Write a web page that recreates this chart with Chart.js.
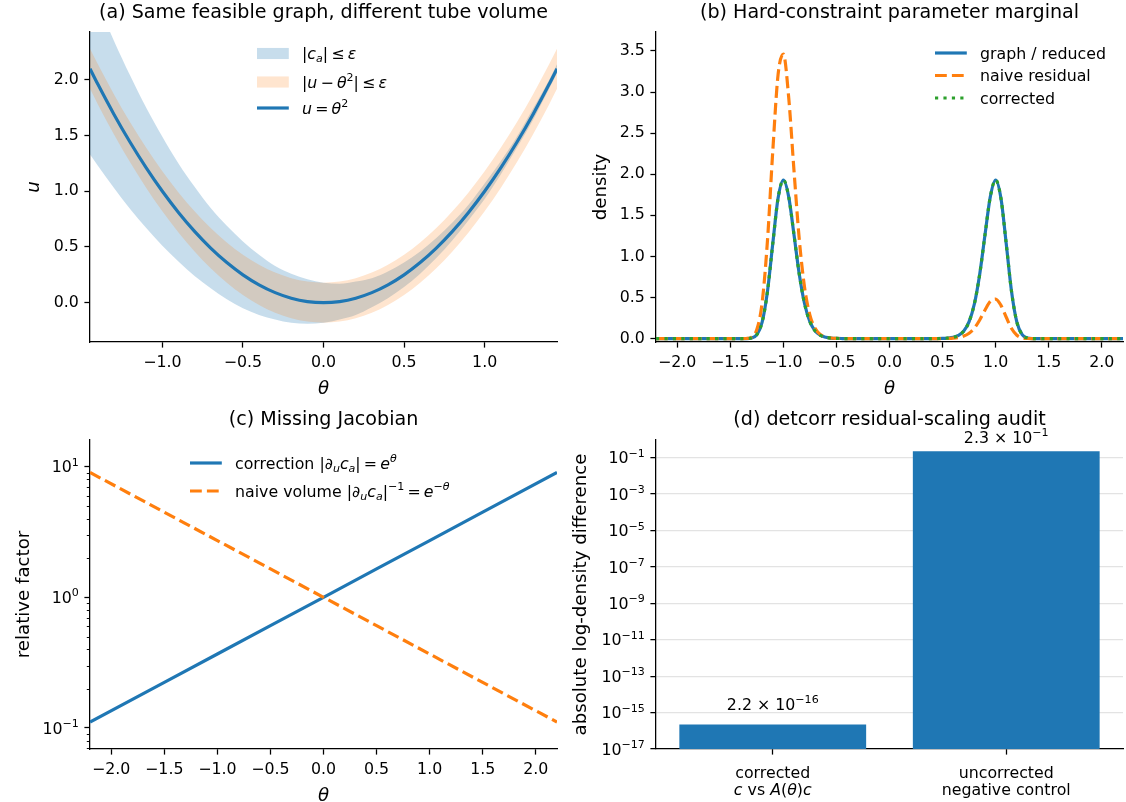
<!DOCTYPE html>
<html><head><meta charset="utf-8">
<script src="https://cdn.jsdelivr.net/npm/chart.js@4.4.0/dist/chart.umd.min.js"></script>
<style>
html,body{margin:0;padding:0;background:#fff;}
#wrap{position:relative;width:1126px;height:802px;background:#fff;}
canvas{position:absolute;left:0;top:0;}
</style></head><body>
<div id="wrap">
<canvas id="ca" width="1126" height="802"></canvas>
<canvas id="cb" width="1126" height="802"></canvas>
<canvas id="cc" width="1126" height="802"></canvas>
<canvas id="cd" width="1126" height="802"></canvas>
</div>
<script>
// ---------------- data ----------------
// (a) tube picture
const thetaA   = [-1.449,-1.4,-1.3,-1.2,-1.1,-1.0,-0.9,-0.8,-0.7,-0.6,-0.5,-0.4,-0.3,-0.2,-0.1,0,0.1,0.2,0.3,0.4,0.5,0.6,0.7,0.8,0.9,1.0,1.1,1.2,1.3,1.4,1.449];
const uA       = [2.10,1.96,1.69,1.44,1.21,1.00,0.81,0.64,0.49,0.36,0.25,0.16,0.09,0.04,0.01,0.00,0.01,0.04,0.09,0.16,0.25,0.36,0.49,0.64,0.81,1.00,1.21,1.44,1.69,1.96,2.10];
const blueLoA  = [1.33,1.23,1.03,0.84,0.67,0.51,0.37,0.24,0.13,0.03,-0.05,-0.11,-0.15,-0.18,-0.19,-0.18,-0.15,-0.11,-0.04,0.04,0.14,0.26,0.40,0.56,0.74,0.93,1.15,1.39,1.64,1.92,2.06];
const blueHiA  = [2.87,2.69,2.35,2.04,1.75,1.49,1.25,1.04,0.85,0.69,0.55,0.43,0.33,0.26,0.21,0.18,0.17,0.19,0.22,0.28,0.36,0.46,0.58,0.72,0.88,1.07,1.27,1.49,1.74,2.00,2.14];
const orangeLoA= [1.92,1.78,1.51,1.26,1.03,0.82,0.63,0.46,0.31,0.18,0.07,-0.02,-0.09,-0.14,-0.17,-0.18,-0.17,-0.14,-0.09,-0.02,0.07,0.18,0.31,0.46,0.63,0.82,1.03,1.26,1.51,1.78,1.92];
const orangeHiA= [2.28,2.14,1.87,1.62,1.39,1.18,0.99,0.82,0.67,0.54,0.43,0.34,0.27,0.22,0.19,0.18,0.19,0.22,0.27,0.34,0.43,0.54,0.67,0.82,0.99,1.18,1.39,1.62,1.87,2.14,2.28];
const xTicksA  = [-1.0,-0.5,0.0,0.5,1.0];
const yTicksA  = [0.0,0.5,1.0,1.5,2.0];

// (b) marginal densities
const thetaB = [-2.2,-2.0,-1.8,-1.6,-1.5,-1.45,-1.4,-1.35,-1.3,-1.25,-1.2,-1.15,-1.1,-1.05,-1.0,-0.95,-0.9,-0.85,-0.8,-0.75,-0.7,-0.65,-0.6,-0.55,-0.5,-0.45,-0.4,-0.2,0,0.2,0.4,0.45,0.5,0.55,0.6,0.65,0.7,0.75,0.8,0.85,0.9,0.95,1.0,1.05,1.1,1.15,1.2,1.25,1.3,1.35,1.4,1.45,1.5,1.6,1.8,2.0,2.2];
const graphB = [0,0,0,0,0,0,0.0001,0.0007,0.0074,0.048,0.200,0.572,1.152,1.707,1.93,1.727,1.265,0.784,0.424,0.206,0.092,0.039,0.016,0.0065,0.0027,0.0011,0.0005,0,0,0,0.0005,0.0011,0.0027,0.0065,0.016,0.039,0.092,0.206,0.424,0.784,1.265,1.727,1.93,1.707,1.152,0.572,0.200,0.048,0.0074,0.0007,0.0001,0,0,0,0,0,0];
const naiveB = [0,0,0,0,0,0,0.0003,0.0018,0.018,0.110,0.437,1.188,2.276,3.208,3.46,2.937,2.046,1.206,0.621,0.287,0.122,0.049,0.019,0.0074,0.0029,0.0012,0.0005,0,0,0,0.0002,0.0004,0.0011,0.0026,0.006,0.0138,0.031,0.066,0.129,0.227,0.348,0.452,0.481,0.405,0.260,0.123,0.041,0.009,0.0013,0.0001,0,0,0,0,0,0,0];
const correctedB = [0,0,0,0,0,0,0.0001,0.0007,0.0074,0.048,0.200,0.572,1.152,1.707,1.93,1.727,1.265,0.784,0.424,0.206,0.092,0.039,0.016,0.0065,0.0027,0.0011,0.0005,0,0,0,0.0005,0.0011,0.0027,0.0065,0.016,0.039,0.092,0.206,0.424,0.784,1.265,1.727,1.93,1.707,1.152,0.572,0.200,0.048,0.0074,0.0007,0.0001,0,0,0,0,0,0];
const xTicksB = [-2.0,-1.5,-1.0,-0.5,0.0,0.5,1.0,1.5,2.0];
const yTicksB = [0.0,0.5,1.0,1.5,2.0,2.5,3.0,3.5];

// (c) Jacobian factors
const thetaC      = [-2.2,-1.5,-1.0,-0.5,0,0.5,1.0,1.5,2.2];
const correctionC = [0.111,0.223,0.368,0.607,1.0,1.649,2.718,4.482,9.025];
const naiveC      = [9.025,4.482,2.718,1.649,1.0,0.607,0.368,0.223,0.111];
const xTicksC = [-2.0,-1.5,-1.0,-0.5,0.0,0.5,1.0,1.5,2.0];
const yTicksC = [0.1,1,10];
const minorTicksC = [0.07,0.08,0.09,0.2,0.3,0.4,0.5,0.6,0.7,0.8,0.9,2,3,4,5,6,7,8,9];

// (d) audit bars
const catsD   = ['corrected','uncorrected'];
const valuesD = [2.2e-16, 0.23];
const yTicksD = [1e-17,1e-15,1e-13,1e-11,1e-9,1e-7,1e-5,1e-3,1e-1];

// ---------------- style ----------------
const FONT = '"DejaVu Sans", sans-serif';
const W = 1126, H = 802;
const TICK = 15.8, LEG = 15.8, LAB = 18.2, TTL = 19.1;
const LW = 3.18, SP = 1.27, TL = 5.6, PAD = 5.6;
const YW = 80, XH = 40;
const BLUE = '#1f77b4', ORANGE = '#ff7f0e', GREEN = '#2ca02c';
Chart.defaults.font.family = FONT;
Chart.defaults.color = '#000';

function fmt1(v){ return (v < 0 ? '\u2212' : '') + Math.abs(v).toFixed(1); }
function pts(xs, ys){ return xs.map((x,i)=>({x:x, y:ys[i]})); }

function segStyle(f, size){
  const small = f.includes('b') || f.includes('p');
  const fs = small ? size*0.7 : size;
  const dy = f.includes('p') ? -size*0.42 : (f.includes('b') ? size*0.2 : 0);
  return {font:(f.includes('i') ? 'italic ' : '') + fs + 'px ' + FONT, dy:dy};
}
function richWidth(ctx, segs, size){
  let w = 0;
  for (const s of segs){ ctx.font = segStyle(s[1]||'', size).font; w += ctx.measureText(s[0]).width; }
  return w;
}
function drawRich(ctx, segs, x, y, size, align){
  const w = richWidth(ctx, segs, size);
  let cx = align === 'center' ? x - w/2 : (align === 'right' ? x - w : x);
  ctx.textAlign = 'left'; ctx.textBaseline = 'alphabetic'; ctx.fillStyle = '#000';
  for (const s of segs){
    const st = segStyle(s[1]||'', size);
    ctx.font = st.font; ctx.fillText(s[0], cx, y + st.dy);
    cx += ctx.measureText(s[0]).width;
  }
}
function powSegs(v){
  const e = Math.round(Math.log10(v));
  return [['10'], [(e < 0 ? '\u2212' : '') + Math.abs(e), 'p']];
}

function linAxis(min, max, ticks, isX){
  return {type:'linear', min:min, max:max, bounds:'data', position:isX?'bottom':'left',
    afterBuildTicks: s => { s.ticks = ticks.map(v=>({value:v})); },
    afterFit: s => { if (isX) s.height = XH; else s.width = YW; },
    ticks:{font:{size:TICK}, color:'#000', padding:PAD, maxRotation:0, minRotation:0, autoSkip:false, callback: v => fmt1(v)},
    grid:{drawOnChartArea:false, drawTicks:true, tickLength:TL, tickColor:'#000', tickWidth:SP},
    border:{display:true, color:'#000', width:SP}
  };
}
function logAxis(min, max, ticks){
  return {type:'logarithmic', min:min, max:max, bounds:'data', position:'left',
    afterBuildTicks: s => { s.ticks = ticks.map(v=>({value:v})); },
    afterFit: s => { s.width = YW; },
    ticks:{display:false},
    grid:{drawOnChartArea:false, drawTicks:true, tickLength:TL, tickColor:'#000', tickWidth:SP},
    border:{display:true, color:'#000', width:SP}
  };
}
function baseOpts(area, scales){
  return {responsive:false, animation:false, events:[],
    layout:{padding:{left:area.l-YW, right:W-area.r, top:area.t, bottom:H-area.b-XH}},
    plugins:{legend:{display:false}, tooltip:{enabled:false}, title:{display:false}},
    scales:scales};
}
function drawLegend(ctx, lg){
  lg.items.forEach((it,i)=>{
    const y = lg.ys[i];
    if (it.type === 'patch'){
      ctx.fillStyle = it.color; ctx.fillRect(lg.hx, y-5.55, 31.8, 11.1);
    } else {
      ctx.save(); ctx.strokeStyle = it.color; ctx.lineWidth = LW; ctx.lineCap = 'butt';
      ctx.setLineDash(it.dash || []); ctx.beginPath(); ctx.moveTo(lg.hx, y); ctx.lineTo(lg.hx+31.8, y); ctx.stroke(); ctx.restore();
    }
    drawRich(ctx, it.label, lg.tx, y + 0.36*LEG, LEG, 'left');
  });
}
function drawLogLabels(chart, ctx){
  const s = chart.scales.y, ca = chart.chartArea;
  s.ticks.forEach(t=>{
    const y = s.getPixelForValue(t.value);
    drawRich(ctx, powSegs(t.value), ca.left - TL - PAD, y + 0.36*TICK, TICK, 'right');
  });
}
function deco(o){
  return {id:'deco', afterDraw(chart){
    const ctx = chart.ctx, ca = chart.chartArea;
    const cx = (ca.left+ca.right)/2, cy = (ca.top+ca.bottom)/2;
    ctx.save();
    ctx.fillStyle = '#000'; ctx.textAlign = 'center'; ctx.textBaseline = 'middle';
    ctx.font = TTL + 'px ' + FONT;
    ctx.fillText(o.title, cx, ca.top - o.titleOff);
    if (o.xlabel) drawRich(ctx, o.xlabel, cx, ca.bottom + o.xlabelOff + 0.36*LAB, LAB, 'center');
    if (o.ylabel){
      ctx.save(); ctx.translate(o.ylabelX, cy); ctx.rotate(-Math.PI/2);
      drawRich(ctx, o.ylabel, 0, 0.36*LAB, LAB, 'center'); ctx.restore();
    }
    if (o.logLabels) drawLogLabels(chart, ctx);
    if (o.legend) drawLegend(ctx, o.legend);
    if (o.extra) o.extra(chart, ctx);
    ctx.restore();
  }};
}
const DASH = [11.8, 5.1], DOT = [3.18, 5.25];
const TH = [['\u03B8','i']];

// ---------------- (a) ----------------
const areaA = {l:90, r:557, t:32, b:342};
const noLine = {borderColor:'rgba(0,0,0,0)', borderWidth:0, pointRadius:0, cubicInterpolationMode:'monotone'};
new Chart(document.getElementById('ca'), {
  type:'line',
  data:{datasets:[
    Object.assign({data:pts(thetaA, blueLoA), fill:false, order:4}, noLine),
    Object.assign({data:pts(thetaA, blueHiA), fill:'-1', backgroundColor:'rgba(31,119,180,0.25)', order:3}, noLine),
    Object.assign({data:pts(thetaA, orangeLoA), fill:false, order:2}, noLine),
    Object.assign({data:pts(thetaA, orangeHiA), fill:'-1', backgroundColor:'rgba(255,127,14,0.2)', order:1}, noLine),
    {data:pts(thetaA, uA), borderColor:BLUE, borderWidth:LW, pointRadius:0, fill:false, order:0, cubicInterpolationMode:'monotone'}
  ]},
  options: baseOpts(areaA, {x:linAxis(-1.449, 1.449, xTicksA, true), y:linAxis(-0.353, 2.43, yTicksA, false)}),
  plugins:[deco({title:'(a) Same feasible graph, different tube volume', titleOff:19, xlabel:TH, xlabelOff:45,
    ylabel:[['u','i']], ylabelX:32,
    legend:{hx:257, tx:302, ys:[53.5,82,108], items:[
      {type:'patch', color:'rgba(31,119,180,0.25)', label:[['|'],['c','i'],['a','ib'],['|\u2009\u2264\u2009'],['\u03B5','i']]},
      {type:'patch', color:'rgba(255,127,14,0.2)', label:[['|'],['u','i'],['\u2009\u2212\u2009'],['\u03B8','i'],['2','p'],['|\u2009\u2264\u2009'],['\u03B5','i']]},
      {type:'line', color:BLUE, label:[['u','i'],['\u2009=\u2009'],['\u03B8','i'],['2','p']]}
    ]}})]
});

// ---------------- (b) ----------------
const areaB = {l:656, r:1123, t:32, b:342};
new Chart(document.getElementById('cb'), {
  type:'line',
  data:{datasets:[
    {data:pts(thetaB, graphB), borderColor:BLUE, borderWidth:LW, pointRadius:0, fill:false, order:2, cubicInterpolationMode:'monotone'},
    {data:pts(thetaB, naiveB), borderColor:ORANGE, borderWidth:LW, borderDash:DASH, pointRadius:0, fill:false, order:1, cubicInterpolationMode:'monotone'},
    {data:pts(thetaB, correctedB), borderColor:GREEN, borderWidth:LW, borderDash:DOT, pointRadius:0, fill:false, order:0, cubicInterpolationMode:'monotone'}
  ]},
  options: baseOpts(areaB, {x:linAxis(-2.2, 2.2, xTicksB, true), y:linAxis(-0.041, 3.73, yTicksB, false)}),
  plugins:[deco({title:'(b) Hard-constraint parameter marginal', titleOff:19, xlabel:TH, xlabelOff:45,
    ylabel:[['density']], ylabelX:599,
    legend:{hx:935, tx:980, ys:[53,75.5,98], items:[
      {type:'line', color:BLUE, label:[['graph / reduced']]},
      {type:'line', color:ORANGE, dash:DASH, label:[['naive residual']]},
      {type:'line', color:GREEN, dash:DOT, label:[['corrected']]}
    ]}})]
});

// ---------------- (c) ----------------
const areaC = {l:90, r:557, t:440, b:749};
new Chart(document.getElementById('cc'), {
  type:'line',
  data:{datasets:[
    {data:pts(thetaC, correctionC), borderColor:BLUE, borderWidth:LW, pointRadius:0, fill:false, order:1, tension:0},
    {data:pts(thetaC, naiveC), borderColor:ORANGE, borderWidth:LW, borderDash:DASH, pointRadius:0, fill:false, order:0, tension:0}
  ]},
  options: baseOpts(areaC, {x:linAxis(-2.2, 2.2, xTicksC, true), y:logAxis(0.069, 16, yTicksC)}),
  plugins:[deco({title:'(c) Missing Jacobian', titleOff:20, xlabel:TH, xlabelOff:45,
    ylabel:[['relative factor']], ylabelX:22, logLabels:true,
    legend:{hx:190, tx:235, ys:[463,491], items:[
      {type:'line', color:BLUE, label:[['correction |'],['\u2202','i'],['u','ib'],['c','i'],['a','ib'],['|\u2009=\u2009'],['e','i'],['\u03B8','ip']]},
      {type:'line', color:ORANGE, dash:DASH, label:[['naive volume |'],['\u2202','i'],['u','ib'],['c','i'],['a','ib'],['|'],['\u22121','p'],['\u2009=\u2009'],['e','i'],['\u2212','p'],['\u03B8','ip']]}
    ]},
    extra:(chart, ctx)=>{
      const s = chart.scales.y, ca = chart.chartArea;
      ctx.strokeStyle = '#000'; ctx.lineWidth = 0.96;
      minorTicksC.forEach(v=>{
        if (v < s.min || v > s.max) return;
        const y = Math.round(s.getPixelForValue(v)) + 0.5;
        ctx.beginPath(); ctx.moveTo(ca.left - 3.2, y); ctx.lineTo(ca.left, y); ctx.stroke();
      });
    }})]
});

// ---------------- (d) ----------------
const areaD = {l:656, r:1123, t:440, b:749};
const xLabelsD = [
  [[['corrected']], [['c','i'],[' vs '],['A','i'],['('],['\u03B8','i'],[')'],['c','i']]],
  [[['uncorrected']], [['negative control']]]
];
const annOffD = [15, 8];
const yD = logAxis(1e-17, 0.94, yTicksD);
yD.z = 1;
yD.grid = {drawOnChartArea:true, drawTicks:true, tickLength:TL, tickColor:'#000', tickWidth:SP, lineWidth:1.27,
  color: c => (c.tick && c.tick.value < 1.5e-17) ? 'rgba(0,0,0,0)' : 'rgba(176,176,176,0.35)'};
new Chart(document.getElementById('cd'), {
  type:'bar',
  data:{labels:catsD, datasets:[{data:valuesD, backgroundColor:BLUE, borderWidth:0, barPercentage:0.8, categoryPercentage:1.0}]},
  options: baseOpts(areaD, {
    x:{type:'category', offset:true, position:'bottom', z:1,
       afterFit: s => { s.height = XH; },
       ticks:{display:false},
       grid:{offset:false, drawOnChartArea:false, drawTicks:true, tickLength:TL, tickColor:'#000', tickWidth:SP},
       border:{display:true, color:'#000', width:SP}},
    y:yD}),
  plugins:[deco({title:'(d) detcorr residual-scaling audit', titleOff:20,
    ylabel:[['absolute log-density difference']], ylabelX:579, logLabels:true,
    extra:(chart, ctx)=>{
      const meta = chart.getDatasetMeta(0);
      meta.data.forEach((bar,i)=>{
        const v = valuesD[i];
        const e = Math.floor(Math.log10(v));
        const m = (v / Math.pow(10, e)).toFixed(1);
        drawRich(ctx, [[m + ' \u00D7 10'], ['\u2212' + Math.abs(e), 'p']], bar.x, bar.y - annOffD[i], TICK, 'center');
      });
      const xs = chart.scales.x, ca = chart.chartArea;
      xLabelsD.forEach((lines,i)=>{
        const x = xs.getPixelForValue(i);
        lines.forEach((ln,j)=> drawRich(ctx, ln, x, ca.bottom + 28.5 + j*17, TICK, 'center'));
      });
    }})]
});
</script>
</body></html>
